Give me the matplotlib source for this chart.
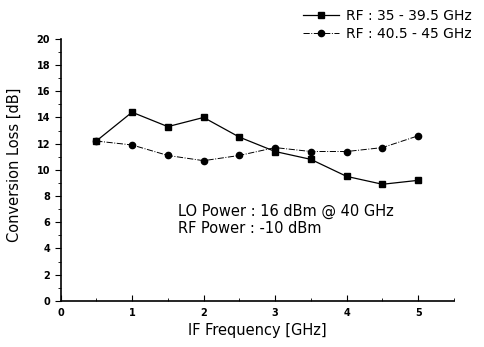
import matplotlib.pyplot as plt

plt.rcParams['font.family'] = ['DejaVu Sans']

# IF frequency points (GHz)
if_freq = [0.5, 1.0, 1.5, 2.0, 2.5, 3.0, 3.5, 4.0, 4.5, 5.0]
# Conversion loss (dB)
loss_rf_35 = [12.2, 14.4, 13.3, 14.0, 12.5, 11.4, 10.8, 9.5, 8.9, 9.2]
loss_rf_40 = [12.2, 11.9, 11.1, 10.7, 11.1, 11.7, 11.4, 11.4, 11.7, 12.6]

fig = plt.figure(figsize=(4.84, 3.47), dpi=100)
ax = fig.add_axes([0.125, 0.133, 0.813, 0.755])

ax.plot(if_freq, loss_rf_35, color='black', linestyle='-', linewidth=0.9,
        marker='s', markersize=4.5, label='RF : 35 - 39.5 GHz')
ax.plot(if_freq, loss_rf_40, color='black', linestyle='-.', linewidth=0.7,
        marker='o', markersize=4.5, label='RF : 40.5 - 45 GHz')

ax.set_xlim(0, 5.5)
ax.set_ylim(0, 20)
ax.set_xticks([0, 1, 2, 3, 4, 5])
ax.set_xticks([0.5, 1.5, 2.5, 3.5, 4.5, 5.5], minor=True)
ax.set_yticks(range(0, 21, 2))
ax.set_yticks(range(0, 21, 1), minor=True)
ax.tick_params(axis='x', which='both', direction='in', labelsize=7, pad=5)
ax.tick_params(axis='x', which='major', length=4)
ax.tick_params(axis='x', which='minor', length=2)
ax.tick_params(axis='y', which='major', direction='out', length=4, labelsize=7)
ax.tick_params(axis='y', which='minor', direction='out', length=2)
for lab in ax.get_xticklabels() + ax.get_yticklabels():
    lab.set_fontweight('bold')
for s in ['top', 'right']:
    ax.spines[s].set_visible(False)
ax.spines['left'].set_linewidth(1.2)
ax.spines['bottom'].set_linewidth(1.2)

ax.set_xlabel('IF Frequency [GHz]', fontsize=10.5, labelpad=4)
ax.set_ylabel('Conversion Loss [dB]', fontsize=10.5)
ax.yaxis.set_label_coords(-0.098, 0.52)

ax.text(1.64, 6.8, 'LO Power : 16 dBm @ 40 GHz', fontsize=10.5, va='center')
ax.text(1.64, 5.5, 'RF Power : -10 dBm', fontsize=10.5, va='center')

fig.legend(loc='upper right', bbox_to_anchor=(1.0, 1.01), frameon=False,
           fontsize=10, handlelength=2.6, handletextpad=0.5, labelspacing=0.3)

fig.savefig('out.png', dpi=100)
